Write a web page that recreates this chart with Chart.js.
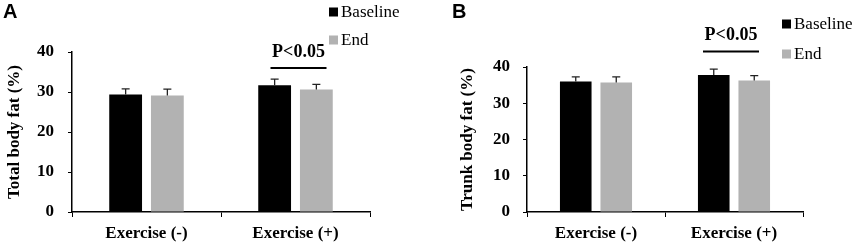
<!DOCTYPE html>
<html>
<head>
<meta charset="utf-8">
<script src="https://cdn.jsdelivr.net/npm/chart.js@4"></script>
<style>
  html, body { margin: 0; padding: 0; background: #fff; }
  #wrap { position: relative; width: 858px; height: 246px; overflow: hidden; }
  canvas { position: absolute; top: 0; }
</style>
</head>
<body>
<div id="wrap">
  <canvas id="chartA" width="430" height="246" style="left:0"></canvas>
  <canvas id="chartB" width="428" height="246" style="left:430px"></canvas>
</div>
<script>
const groups = ["Exercise (-)", "Exercise (+)"];
const seriesNames = ["Baseline", "End"];
const seriesColors = ["#000000", "#b2b2b2"];
const yMin = 0, yMax = 40, yStep = 10;

// A: total body fat (%)
const totalBaseline = [29.4, 31.7];
const totalEnd = [29.1, 30.6];
const totalBaselineErr = [1.4, 1.5];
const totalEndErr = [1.6, 1.3];

// B: trunk body fat (%)
const trunkBaseline = [36.0, 37.8];
const trunkEnd = [35.7, 36.3];
const trunkBaselineErr = [1.3, 1.6];
const trunkEndErr = [1.6, 1.3];

const sigLabel = "P<0.05";
const serif = "'Liberation Serif', 'Times New Roman', serif";

// error bars, bracket, legend and panel letter
const extras = {
  id: "extras",
  afterDraw(chart, args, o) {
    const ctx = chart.ctx;
    const y = chart.scales.y;
    ctx.save();

    ctx.strokeStyle = "#222";
    ctx.lineWidth = 1.3;
    chart.data.datasets.forEach((ds, i) => {
      chart.getDatasetMeta(i).data.forEach((bar, j) => {
        const top = y.getPixelForValue(ds.data[j] + o.errors[i][j]);
        ctx.beginPath();
        ctx.moveTo(bar.x, bar.y);
        ctx.lineTo(bar.x, top);
        ctx.moveTo(bar.x - 4, top);
        ctx.lineTo(bar.x + 4, top);
        ctx.stroke();
      });
    });

    // significance bracket over the second group
    const cx = chart.scales.x.getPixelForValue(1) + o.sigShift;
    const by = y.getPixelForValue(o.sigLevel);
    ctx.strokeStyle = "#000";
    ctx.lineWidth = 2;
    ctx.beginPath();
    ctx.moveTo(cx - 28, by);
    ctx.lineTo(cx + 28, by);
    ctx.stroke();
    ctx.fillStyle = "#000";
    ctx.font = "bold 18px " + serif;
    ctx.textAlign = "center";
    ctx.textBaseline = "middle";
    ctx.fillText(sigLabel, cx, by - 16);

    // legend
    ctx.font = "17px " + serif;
    ctx.textAlign = "left";
    chart.data.datasets.forEach((ds, i) => {
      const ly = o.legendY[i];
      ctx.fillStyle = ds.backgroundColor;
      ctx.fillRect(o.legendX, ly - 4.5, 9, 9);
      ctx.fillStyle = "#000";
      ctx.fillText(ds.label, o.legendX + 12, ly + 1);
    });

    // panel letter
    ctx.font = "bold 20px 'Liberation Sans', Arial, sans-serif";
    ctx.textBaseline = "top";
    ctx.fillText(o.letter, o.letterX, 2);
    ctx.restore();
  }
};

function makeChart(id, base, end, errs, title, box, o) {
  const canvas = document.getElementById(id);
  return new Chart(canvas, {
    type: "bar",
    data: {
      labels: groups,
      datasets: [
        { label: seriesNames[0], data: base, backgroundColor: seriesColors[0] },
        { label: seriesNames[1], data: end, backgroundColor: seriesColors[1] }
      ]
    },
    options: {
      responsive: false,
      animation: false,
      categoryPercentage: box.cp,
      barPercentage: box.bp,
      layout: { padding: { left: 0, top: box.top, right: canvas.width - box.right, bottom: 0 } },
      plugins: {
        legend: { display: false },
        tooltip: { enabled: false },
        extras: Object.assign({ errors: errs }, o)
      },
      scales: {
        x: {
          afterFit: s => { s.height = canvas.height - box.bottom; },
          grid: { drawOnChartArea: false, color: "#000", tickLength: 5 },
          border: { color: "#000", width: 1.5 },
          ticks: { color: "#000", padding: 6, font: { family: serif, size: 17, weight: "bold" } }
        },
        y: {
          min: yMin, max: yMax,
          afterFit: s => { s.width = box.left; },
          grid: { drawOnChartArea: false, color: "#000", tickLength: 4 },
          border: { color: "#000", width: 1.5 },
          ticks: { stepSize: yStep, color: "#000", padding: box.tickPad, font: { family: serif, size: 17, weight: "bold" } },
          title: {
            display: true, text: title, color: "#000",
            padding: { top: box.titlePad, bottom: 0 },
            font: { family: serif, size: 17, weight: "bold" }
          }
        }
      }
    },
    plugins: [extras]
  });
}

makeChart("chartA", totalBaseline, totalEnd, [totalBaselineErr, totalEndErr], "Total body fat (%)",
  { left: 72, right: 370, top: 52, bottom: 212, cp: 0.56, bp: 0.786, tickPad: 14, titlePad: 4 },
  { sigLevel: 36, sigShift: 3, legendX: 329, legendY: [12, 40], letter: "A", letterX: 3 });

makeChart("chartB", trunkBaseline, trunkEnd, [trunkBaselineErr, trunkEndErr], "Trunk body fat (%)",
  { left: 97, right: 373, top: 67, bottom: 212, cp: 0.587, bp: 0.78, tickPad: 13, titlePad: 27 },
  { sigLevel: 44.3, sigShift: -3, legendX: 352, legendY: [24, 54], letter: "B", letterX: 22 });
</script>
</body>
</html>
